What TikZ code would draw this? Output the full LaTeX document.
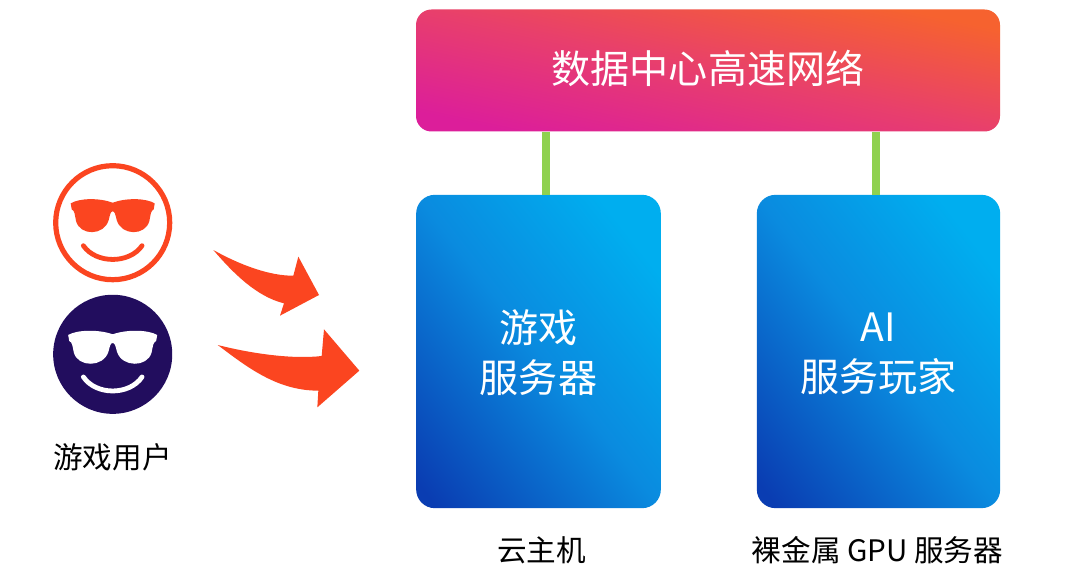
\documentclass[tikz,border=0pt]{standalone}
\usepackage{fontspec}
\setmainfont{Noto Sans CJK SC}
\definecolor{orangeR}{HTML}{FB4520}
\definecolor{navy}{HTML}{220D5E}
\definecolor{linkG}{HTML}{8FD14F}
\definecolor{netA}{HTML}{DC1E9A}
\definecolor{netM}{HTML}{E83F6C}
\definecolor{netB}{HTML}{F6622F}
\definecolor{blueA}{HTML}{0A3DB2}
\definecolor{blueM}{HTML}{0A8BDF}
\definecolor{blueB}{HTML}{00AEEF}
\pgfdeclareverticalshading{netramp}{100bp}{color(0bp)=(netA); color(25bp)=(netA); color(50bp)=(netM); color(75bp)=(netB); color(100bp)=(netB)}
\pgfdeclareverticalshading{blueramp}{100bp}{color(0bp)=(blueA); color(18bp)=(blueA); color(50bp)=(blueM); color(76bp)=(blueB); color(100bp)=(blueB)}
\tikzset{
  netbox/.style={rectangle,rounded corners=15.5pt*0.75,inner sep=0pt,shade,shading=netramp,shading angle=-12,minimum width=438pt,minimum height=91.5pt},
  srvbox/.style={rectangle,rounded corners=14pt,inner sep=0pt,shade,shading=blueramp,shading angle=-52,minimum height=235pt},
  boxtext/.style={inner sep=0pt,text=white,align=center,font=\fontsize{29.3pt}{37.6pt}\selectfont},
  caption/.style={inner sep=0pt,text=black,font=\fontsize{22.2pt}{26pt}\selectfont},
  link/.style={draw=linkG,line width=6pt},
  swoosh/.style={fill=orangeR,draw=none},
}
\newcommand{\shadesglasses}{%
  (-126,-58) .. controls (-100,-74) and (-40,-75) .. (0,-60)
  .. controls (40,-75) and (100,-74) .. (126,-58)
  -- (123,-40) .. controls (114,-36) and (114,-25) .. (110,-5)
  .. controls (98,40) and (26,40) .. (12,-8)
  .. controls (8,-25) and (6,-34) .. (0,-34)
  .. controls (-6,-34) and (-8,-25) .. (-12,-8)
  .. controls (-26,40) and (-98,40) .. (-110,-5)
  .. controls (-114,-25) and (-114,-36) .. (-123,-40) -- cycle}
\begin{document}
\begin{tikzpicture}[x=0.75pt,y=-0.75pt]
\useasboundingbox (0,0) rectangle (1080,577);
\fill[white] (0,0) rectangle (1080,577);
% boxes
\node[netbox] (net) at (708,70.5) {};
\node[boxtext] (netText) at (708,68.5) {数据中心高速网络};
\node[srvbox,minimum width=183.5pt] (game) at (538.5,351.5) {};
\node[srvbox,minimum width=182.5pt] (ai) at (878.5,351.5) {};
\node[boxtext] (gameText) at (538.5,352.5) {游戏\\服务器};
\node[boxtext] (aiText) at (878.5,353.5) {AI\\服务玩家};
\coordinate (linkA) at (546,195);
\coordinate (linkB) at (876,195);
\draw[link] (net.south -| linkA) -- (linkA);
\draw[link] (net.south -| linkB) -- (linkB);
% captions
\node[caption] (users) at (112.5,457) {游戏用户};
\node[caption] (cloud) at (541.5,550) {云主机};
\node[caption] (metal) at (877.5,550) {裸金属 GPU 服务器};
% face 1
\node[circle,draw=orangeR,line width=3.9pt,fill=white,minimum size=85.5pt,inner sep=0pt] (face1) at (112.7,222.7) {};
\begin{scope}[shift={(face1.center)},x=0.25pt,y=-0.25pt]
  \fill[orangeR] \shadesglasses;
  \draw[orangeR,line width=3.6pt,line cap=round] (-88,69) .. controls (-50,124) and (50,124) .. (88,69);
\end{scope}
% face 2
\node[circle,fill=navy,minimum size=89.3pt,inner sep=0pt] (face2) at (112.7,354.3) {};
\begin{scope}[shift={(face2.center)},x=0.265pt,y=-0.25pt]
  \fill[white] \shadesglasses;
\end{scope}
\begin{scope}[shift={(face2.center)},x=0.25pt,y=-0.25pt]
  \draw[white,line width=3.6pt,line cap=round] (-88,68) .. controls (-50,124) and (50,124) .. (88,68);
\end{scope}
% arrows
\begin{scope}[shift={(30,150)},x=0.25pt,y=-0.25pt]
  \fill[swoosh] (550,300) .. controls (630,345) and (720,378) .. (790,377)
    -- (805,320) -- (867,435) -- (750,497) -- (762,460)
    .. controls (680,440) and (610,370) .. (550,300) -- cycle;
  \fill[swoosh] (563,585) .. controls (670,612) and (790,628) .. (875,618)
    -- (882,538) -- (988,662) -- (862,772) -- (865,722)
    .. controls (740,722) and (650,650) .. (563,585) -- cycle;
\end{scope}
\end{tikzpicture}
\end{document}
